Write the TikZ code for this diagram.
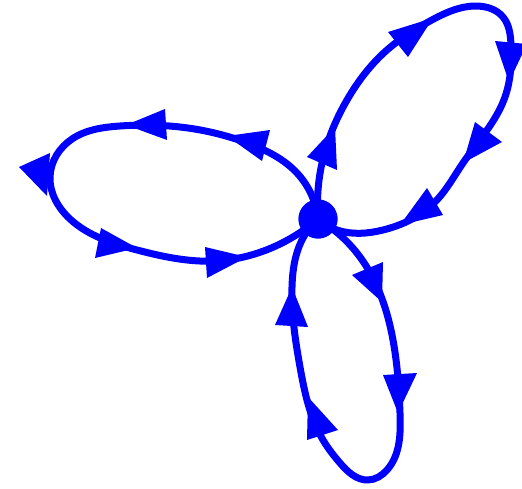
\documentclass[tikz,border=0pt]{standalone}
\usetikzlibrary{hobby}
\begin{document}
\begin{tikzpicture}[x=1pt,y=-1pt,
  loopline/.style={draw=blue, line width=7pt, line join=round, line cap=round},
  tri/.style={fill=blue, draw=none},
  vertexdot/.style={circle, fill=blue, minimum size=39pt, inner sep=0pt}]
\useasboundingbox (0,0) rectangle (522,488);
\node[vertexdot] (V) at (318,219) {};
% left loop
\draw[loopline, use Hobby shortcut] (V.center) .. (297,173) .. (250,144) .. (180,127) .. (120,126) .. (72,139) .. (50,177) .. (70,219) .. (137,250) .. (215,261) .. (280,244) .. (V.center);
% upper loop
\draw[loopline, use Hobby shortcut] (V.center) .. (322,163) .. (347,100) .. (387,50) .. (430,21) .. (475,6) .. (503,17) .. (511,45) .. (505,97) .. (463,163) .. (435,202) .. (383,230) .. (337,230) .. (V.center);
% lower loop
\draw[loopline, use Hobby shortcut] (V.center) .. (360,257) .. (393,340) .. (400,413) .. (387,470) .. (368,480) .. (340,463) .. (323,440) .. (300,367) .. (292,287) .. (302,240) .. (V.center);
% arrowheads, left loop
\fill[tri] (19,167) -- (50,153) -- (47,196) -- cycle;
\fill[tri] (126,125) -- (165,109) -- (167,140) -- cycle;
\fill[tri] (227,136) -- (270,130) -- (262,161) -- cycle;
\fill[tri] (137,248) -- (101,228) -- (95,258) -- cycle;
\fill[tri] (247,257) -- (205,247) -- (207,278) -- cycle;
% arrowheads, upper loop
\fill[tri] (335,127) -- (307,157) -- (337,170) -- cycle;
\fill[tri] (433,18) -- (388,32) -- (408,57) -- cycle;
\fill[tri] (509,82) -- (495,41) -- (527,44) -- cycle;
\fill[tri] (463,163) -- (475,122) -- (502,142) -- cycle;
\fill[tri] (400,225) -- (427,188) -- (443,215) -- cycle;
% arrowheads, lower loop
\fill[tri] (382,302) -- (352,275) -- (383,262) -- cycle;
\fill[tri] (398,413) -- (383,375) -- (417,373) -- cycle;
\fill[tri] (308,397) -- (307,440) -- (338,430) -- cycle;
\fill[tri] (292,287) -- (275,325) -- (308,327) -- cycle;
\node[vertexdot] at (V) {};
\end{tikzpicture}
\end{document}
